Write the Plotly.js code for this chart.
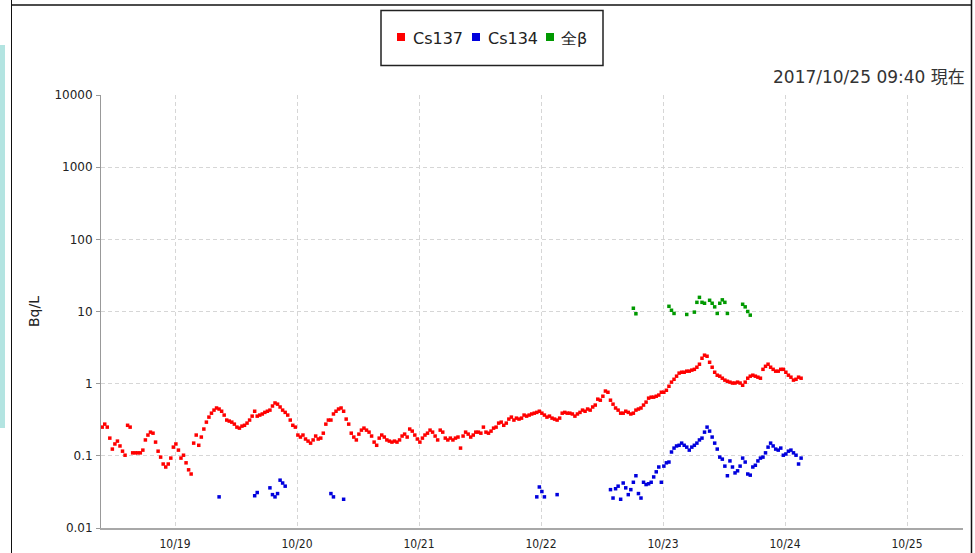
<!DOCTYPE html>
<html>
<head>
<meta charset="utf-8">
<script src="https://cdn.plot.ly/plotly-3.0.1.min.js"></script>
<style>
html,body{margin:0;padding:0;background:#fff;}
#chart{width:975px;height:553px;}
</style>
</head>
<body>
<div id="chart"></div>
<script>
// ---- data (Bq/L), 30-minute readings starting 2017-10-18 09:40 ----
const seriesStart = '2017-10-18T09:40:00Z';
const stepMinutes = 30;

const cs137 = [
0.25,0.275,0.25,0.176,0.124,0.146,0.16,0.137,0.116,0.102,
0.265,0.25,0.11,0.11,0.11,0.11,0.12,0.166,0.194,0.213,
0.206,0.155,0.116,0.096,0.077,0.07,0.077,0.093,0.132,0.146,
0.12,0.093,0.102,0.08,0.064,0.056,0.15,0.194,0.14,0.182,
0.235,0.293,0.344,0.39,0.43,0.46,0.445,0.415,0.367,0.313,
0.303,0.293,0.275,0.25,0.242,0.258,0.265,0.284,0.313,0.355,
0.415,0.355,0.367,0.38,0.40,0.415,0.43,0.49,0.54,0.52,
0.475,0.43,0.40,0.367,0.313,0.265,0.25,0.194,0.182,0.194,
0.171,0.16,0.15,0.166,0.188,0.171,0.176,0.206,0.275,0.313,
0.313,0.38,0.415,0.445,0.46,0.415,0.323,0.275,0.206,0.182,
0.166,0.2,0.227,0.242,0.227,0.213,0.188,0.155,0.14,0.176,
0.194,0.182,0.166,0.16,0.155,0.16,0.155,0.166,0.188,0.2,
0.182,0.235,0.22,0.194,0.171,0.155,0.176,0.194,0.206,0.227,
0.213,0.188,0.166,0.227,0.213,0.176,0.166,0.176,0.166,0.176,
0.182,0.128,0.188,0.213,0.2,0.182,0.194,0.213,0.213,0.206,
0.25,0.213,0.206,0.22,0.242,0.25,0.284,0.293,0.265,0.284,
0.323,0.344,0.313,0.333,0.323,0.333,0.367,0.355,0.367,0.38,
0.39,0.40,0.415,0.39,0.367,0.344,0.355,0.333,0.323,0.313,
0.333,0.39,0.40,0.39,0.39,0.38,0.355,0.38,0.40,0.43,
0.415,0.445,0.43,0.475,0.505,0.61,0.59,0.67,0.79,0.76,
0.59,0.52,0.46,0.43,0.39,0.39,0.415,0.40,0.38,0.39,
0.43,0.445,0.46,0.505,0.555,0.63,0.65,0.65,0.67,0.695,
0.76,0.76,0.81,0.92,1.05,1.15,1.27,1.40,1.44,1.44,
1.49,1.49,1.54,1.58,1.69,1.86,2.25,2.48,2.40,1.98,
1.69,1.44,1.31,1.27,1.19,1.12,1.08,1.05,1.02,1.02,
1.05,1.02,0.95,1.05,1.19,1.27,1.31,1.27,1.23,1.19,
1.58,1.74,1.86,1.69,1.58,1.49,1.49,1.58,1.58,1.44,
1.31,1.23,1.12,1.15,1.23,1.19
];

const cs134Slots = [
46,60,61,66,67,68,69,70,71,72,90,91,95,171,172,173,174,179,
200,201,202,203,204,205,206,207,208,209,
210,211,212,213,214,215,216,217,218,219,
220,221,222,223,224,225,226,227,228,229,
230,231,232,233,234,235,236,237,238,239,
240,241,242,243,244,245,246,247,248,249,
250,251,252,253,254,255,256,257,258,259,
260,261,262,263,264,265,266,267,268,269,
270,271,272,273,274,275
];
const cs134 = [
0.027,0.028,0.031,0.036,0.029,0.027,0.030,0.046,0.042,0.038,0.030,0.027,0.025,0.027,0.037,0.032,0.027,0.029,
0.034,0.026,0.035,0.038,0.025,0.042,0.036,0.029,0.034,0.043,
0.053,0.030,0.026,0.043,0.040,0.041,0.043,0.051,0.060,0.070,
0.043,0.072,0.080,0.082,0.113,0.128,0.137,0.140,0.150,0.140,
0.132,0.120,0.132,0.140,0.150,0.166,0.176,0.213,0.250,0.220,
0.182,0.150,0.124,0.096,0.090,0.072,0.053,0.085,0.070,0.058,
0.062,0.072,0.093,0.082,0.056,0.054,0.070,0.074,0.085,0.093,
0.096,0.110,0.132,0.150,0.137,0.124,0.120,0.128,0.102,0.106,
0.116,0.120,0.110,0.102,0.077,0.093
];

const betaSlots = [209,210,223,224,225,230,233,234,235,236,237,239,240,241,242,243,244,245,246,252,253,254,255];
const beta = [11.1,9.3,11.8,10.4,9.4,9.1,9.8,13.4,15.7,13.4,13.0,14.3,13.0,11.6,9.4,13.0,14.5,13.4,9.4,12.6,11.6,10.0,8.9];

const seriesNames = ['Cs137','Cs134','全β'];
const seriesColors = ['#ff0000','#0000dd','#009900'];

const dayTicks = ['2017-10-19','2017-10-20','2017-10-21','2017-10-22','2017-10-23','2017-10-24','2017-10-25'];
const dayLabels = ['10/19','10/20','10/21','10/22','10/23','10/24','10/25'];
const yTickVals = [0.01,0.1,1,10,100,1000,10000];
const yTickText = ['0.01','0.1','1','10','100','1000','10000'];
const stampText = '2017/10/25 09:40 現在';
const unitText = 'Bq/L';

// ---- helpers ----
const t0 = Date.parse(seriesStart);
function slotTime(i){
  return new Date(t0 + i*stepMinutes*60000).toISOString().slice(0,16).replace('T',' ');
}
const W = 975, H = 553;
const PL = 101, PR = 963, PT = 95, PB = 528;
const fx = x => (x - PL)/(PR - PL);
const fy = y => (PB - y)/(PB - PT);

const mk = (c) => ({symbol:'square', size:3.5, color:c, line:{width:0}});

const traces = [
  {type:'scatter', mode:'markers', name:seriesNames[0],
   x: cs137.map((v,i)=>slotTime(i)), y: cs137, marker: mk(seriesColors[0]), showlegend:false},
  {type:'scatter', mode:'markers', name:seriesNames[1],
   x: cs134Slots.map(slotTime), y: cs134, marker: mk(seriesColors[1]), showlegend:false},
  {type:'scatter', mode:'markers', name:seriesNames[2],
   x: betaSlots.map(slotTime), y: beta, marker: mk(seriesColors[2]), showlegend:false}
];

const shapes = [
  {type:'rect', xref:'paper', yref:'paper', x0:fx(0), x1:fx(5), y0:fy(45), y1:fy(428),
   fillcolor:'#b3e4e1', line:{width:0}, layer:'below'},
  {type:'line', xref:'paper', yref:'paper', x0:fx(11.5), x1:fx(11.5), y0:fy(0), y1:fy(553),
   line:{color:'#111', width:1}},
  {type:'line', xref:'paper', yref:'paper', x0:fx(971.5), x1:fx(971.5), y0:fy(0), y1:fy(553),
   line:{color:'#111', width:1.5}},
  {type:'line', xref:'paper', yref:'paper', x0:fx(11), x1:fx(972), y0:fy(5), y1:fy(5),
   line:{color:'#111', width:1.5}},
  {type:'rect', xref:'paper', yref:'paper', x0:fx(381), x1:fx(603), y0:fy(10.5), y1:fy(65.5),
   line:{color:'#222', width:1.5}, fillcolor:'rgba(0,0,0,0)'}
];
const legendSq = [401, 476, 550];
const legendTx = [411, 486, 559];
const annotations = [];
seriesNames.forEach((n,k)=>{
  shapes.push({type:'rect', xref:'paper', yref:'paper',
    x0:fx(legendSq[k]-4), x1:fx(legendSq[k]+4), y0:fy(33), y1:fy(41),
    fillcolor:seriesColors[k], line:{width:0}});
  annotations.push({xref:'paper', yref:'paper', x:fx(legendTx[k]), y:fy(38.5),
    xanchor:'left', yanchor:'middle', showarrow:false, text:n,
    font:{family:'DejaVu Sans, sans-serif', size:16, color:'#222'}});
});
annotations.push({xref:'paper', yref:'paper', x:fx(967), y:fy(77), xanchor:'right', yanchor:'middle',
  showarrow:false, text:stampText,
  font:{family:'DejaVu Sans, Noto Sans CJK JP, sans-serif', size:17, color:'#333'}});

const gridStyle = {showgrid:true, gridcolor:'#d6d6d6', gridwidth:1, griddash:'4px,3px', zeroline:false};

const layout = {
  width:W, height:H,
  margin:{l:PL, r:W-PR, t:PT, b:H-PB, pad:0},
  paper_bgcolor:'#ffffff', plot_bgcolor:'#ffffff',
  showlegend:false,
  xaxis: Object.assign({
    type:'date', range:['2017-10-18 09:26','2017-10-25 11:01'],
    tickmode:'array', tickvals:dayTicks, ticktext:dayLabels,
    showline:true, linecolor:'#a8a8a8', linewidth:2,
    ticks:'', ticklabelstandoff:4,
    tickfont:{family:'Liberation Sans Narrow, DejaVu Sans Condensed, sans-serif', size:12, color:'#222'}
  }, gridStyle),
  yaxis: Object.assign({
    type:'log', range:[-2,4],
    tickmode:'array', tickvals:yTickVals, ticktext:yTickText,
    showline:true, linecolor:'#999', linewidth:1,
    ticks:'outside', ticklen:4, tickcolor:'#999', ticklabelstandoff:1,
    tickfont:{family:'DejaVu Sans, sans-serif', size:12, color:'#222'},
    title:{text:unitText, font:{family:'DejaVu Sans, sans-serif', size:14, color:'#222'}, standoff:11}
  }, gridStyle),
  shapes: shapes,
  annotations: annotations
};

Plotly.newPlot('chart', traces, layout, {staticPlot:true, displayModeBar:false});
</script>
</body>
</html>
